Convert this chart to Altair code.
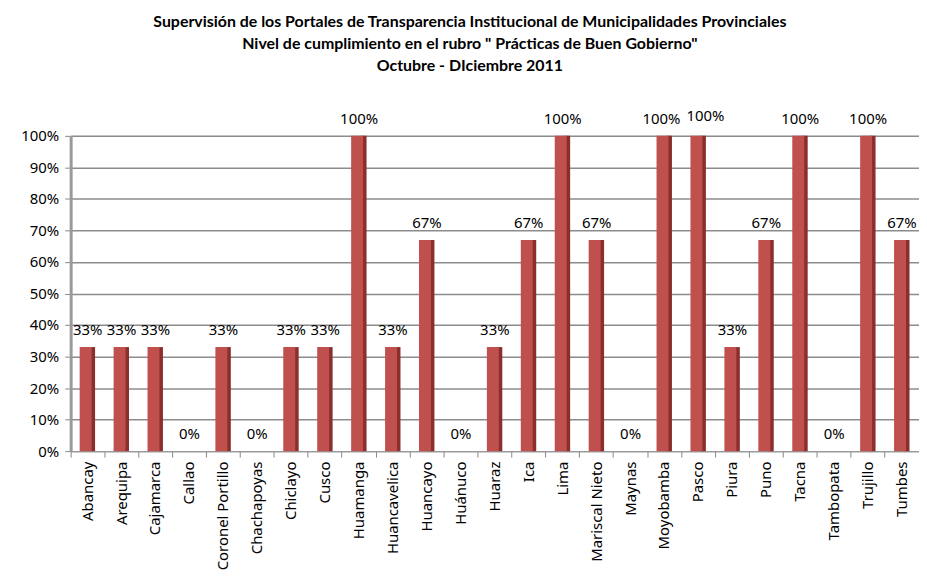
import altair as alt
import pandas as pd

categories = ["Abancay", "Arequipa", "Cajamarca", "Callao", "Coronel Portillo",
              "Chachapoyas", "Chiclayo", "Cusco", "Huamanga", "Huancavelica",
              "Huancayo", "Huánuco", "Huaraz", "Ica", "Lima", "Mariscal Nieto",
              "Maynas", "Moyobamba", "Pasco", "Piura", "Puno", "Tacna",
              "Tambopata", "Trujillo", "Tumbes"]
values = [0.33, 0.33, 0.33, 0.0, 0.33, 0.0, 0.33, 0.33, 1.0, 0.33,
          0.67, 0.0, 0.33, 0.67, 1.0, 0.67, 0.0, 1.0, 1.0, 0.33,
          0.67, 1.0, 0.0, 1.0, 0.67]
labels = ["33%", "33%", "33%", "0%", "33%", "0%", "33%", "33%", "100%", "33%",
          "67%", "0%", "33%", "67%", "100%", "67%", "0%", "100%", "100%", "33%",
          "67%", "100%", "0%", "100%", "67%"]

df = pd.DataFrame({"cat": categories, "val": values, "lab": labels})

FONT = "Noto Sans"
TFONT = "Lato"

x = alt.X("cat:N", sort=categories, title=None,
          scale=alt.Scale(paddingInner=0, paddingOuter=0),
          axis=alt.Axis(labelAngle=-90, labelFontSize=15, labelFont=FONT,
                        labelColor="black", bandPosition=0, tickSize=6,
                        tickColor="#888888", domainColor="#9a9a9a",
                        domainWidth=1.5, labelPadding=4, grid=False))
y = alt.Y("val:Q", title=None,
          scale=alt.Scale(domain=[0, 1]),
          axis=alt.Axis(format=".0%", values=[i / 10 for i in range(11)],
                        labelFontSize=15, labelFont=FONT, labelColor="black",
                        tickSize=6, tickColor="#888888", domainColor="#9a9a9a",
                        domainWidth=3, labelPadding=6,
                        gridColor="#8c8c8c", gridWidth=1.5))

base = alt.Chart(df)

side = base.mark_bar(width=5, color="#8B2F2C", xOffset=5).encode(x=x, y=y)
front = base.mark_bar(width=12, color="#C0504D", xOffset=-2).encode(x=x, y=y)

text_main = base.transform_filter(
    (alt.datum.cat != "Pasco") & (alt.datum.cat != "Moyobamba")
).mark_text(dy=-17, fontSize=15, font=FONT, color="black").encode(
    x=x, y=y, text="lab:N")
text_moy = base.transform_filter(alt.datum.cat == "Moyobamba").mark_text(
    dy=-17, dx=-3, fontSize=15, font=FONT, color="black").encode(
    x=x, y=y, text="lab:N")
text_pas = base.transform_filter(alt.datum.cat == "Pasco").mark_text(
    dy=-20, dx=7, fontSize=15, font=FONT, color="black").encode(
    x=x, y=y, text="lab:N")

chart = alt.layer(side, front, text_main, text_moy, text_pas).properties(
    width=853, height=317,
    padding={"left": 12, "top": 5, "right": 0, "bottom": 5},
    title=alt.TitleParams(
        text=["Supervisión de los Portales de Transparencia Institucional de Municipalidades Provinciales",
              "Nivel de cumplimiento en el rubro \" Prácticas de Buen Gobierno\"",
              "Octubre - DIciembre 2011"],
        fontSize=16, font=TFONT, fontWeight="bold", color="black",
        anchor="middle", frame="bounds", lineHeight=22, offset=35),
).configure_view(fill="#F4E6E6", stroke="#aaaaaa").configure(background="white")

chart.save("out.html", embed_options={"renderer": "svg", "actions": False})
